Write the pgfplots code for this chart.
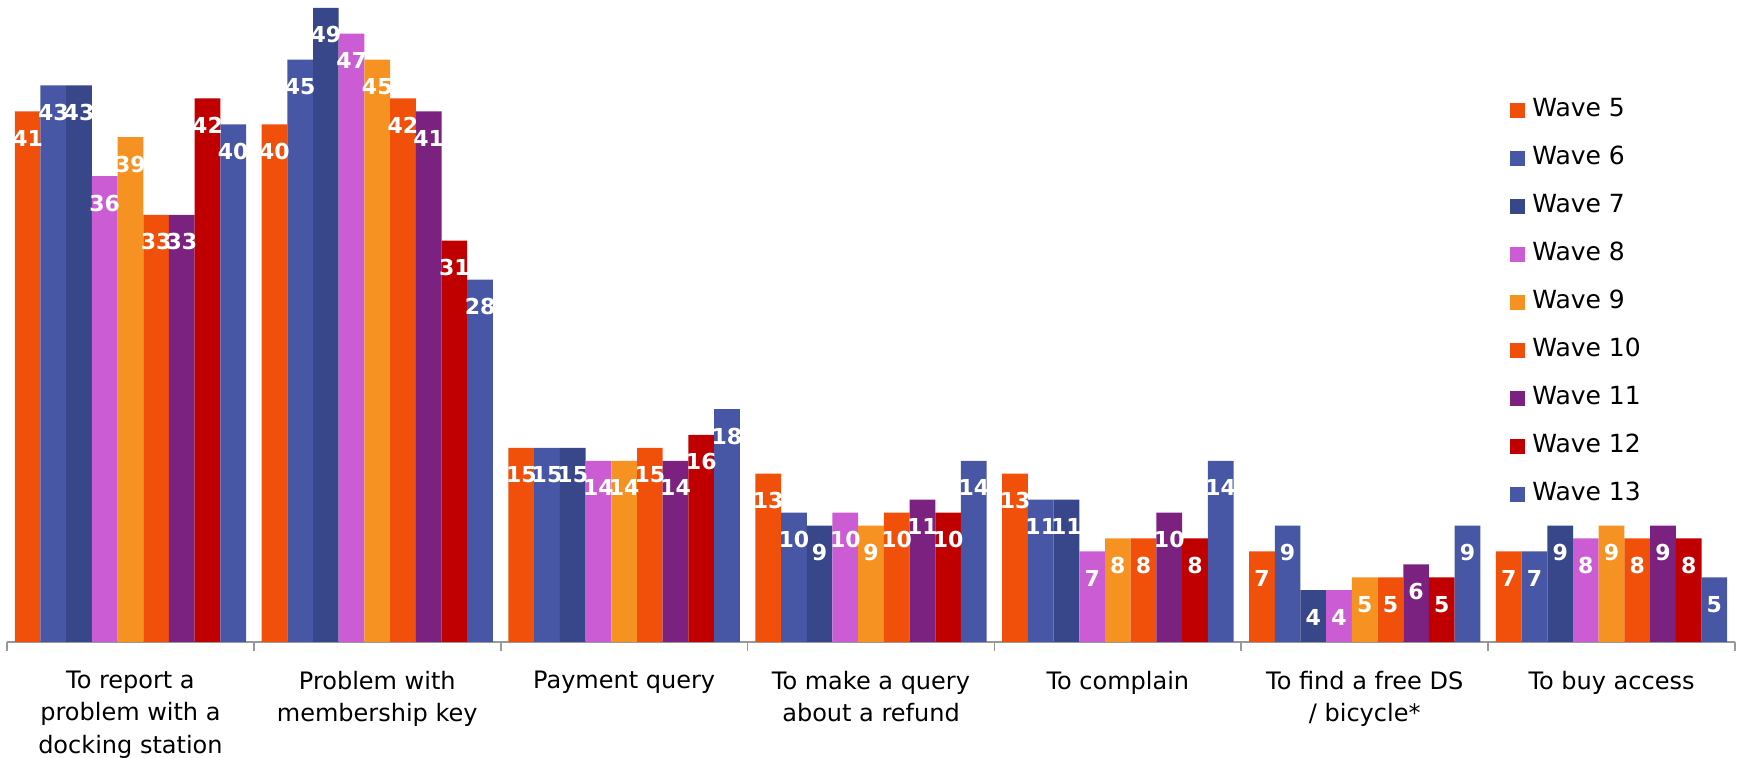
\documentclass[border=0pt]{standalone}
\usepackage{fontspec}
\setmainfont{DejaVu Sans}
\usepackage{pgfplots}
\usepackage{pgfplotstable}
\pgfplotsset{compat=1.18}

\definecolor{wfive}{HTML}{F0500A}
\definecolor{wsix}{HTML}{4757A6}
\definecolor{wseven}{HTML}{38468A}
\definecolor{weight}{HTML}{CC5CD4}
\definecolor{wnine}{HTML}{F59222}
\definecolor{wten}{HTML}{F0500A}
\definecolor{weleven}{HTML}{7B2180}
\definecolor{wtwelve}{HTML}{C00000}
\definecolor{wthirteen}{HTML}{4757A6}

% share of callers, by reason for calling and wave
\pgfplotstableread{
x w5 w6 w7 w8 w9 w10 w11 w12 w13
0 41 43 43 36 39 33 33 42 40
1 40 45 49 47 45 42 41 31 28
2 15 15 15 14 14 15 14 16 18
3 13 10 9 10 9 10 11 10 14
4 13 11 11 7 8 8 10 8 14
5 7 9 4 4 5 5 6 5 9
6 7 7 9 8 9 8 9 8 5
}\datatable

\begin{document}
\begin{tikzpicture}
\useasboundingbox (-3.5pt,-58pt) rectangle (868.5pt,321pt);
\begin{axis}[
  scale only axis, width=864pt, height=321pt,
  ymin=0, ymax=49.6, xmin=-0.5, xmax=6.5,
  ybar=0pt, bar width=12.85pt,
  axis y line=none, axis x line*=bottom,
  x axis line style={-, draw=gray!80, line width=0.9pt},
  xtick={0,...,6},
  xticklabels={To report a\\problem with a\\docking station,
    Problem with\\membership key, Payment query,
    To make a query\\about a refund, To complain,
    To find a free DS\\/ bicycle*, To buy access},
  major x tick style={draw=none},
  minor xtick={-0.5,0.5,...,6.5},
  tick align=outside, minor tick length=4.5pt,
  minor x tick style={draw=gray!80, line width=0.9pt},
  xticklabel style={align=center, inner sep=0pt, anchor=north, yshift=-10pt,
    font=\fontsize{12}{16.2}\selectfont},
  /pgf/number format/assume math mode=true,
  nodes near coords,
  every node near coord/.append style={anchor=center, yshift=-13.5pt,
    text=white, font=\bfseries\fontsize{11}{12}\selectfont},
  every axis plot post/.append style={draw=none,
    legend image code/.code={\fill[##1] (0pt,-3.75pt) rectangle (7.5pt,3.75pt);}},
  legend style={draw=none, fill=none, at={(0.870,0.846)}, anchor=north west,
    inner sep=0pt, outer sep=0pt, row sep=12.5pt, column sep=3.5pt,
    font=\fontsize{12.5}{14}\selectfont,
    nodes={inner sep=0pt, text height=9pt, text depth=2.5pt}},
  legend cell align=left,
]
\addplot[fill=wfive] table[x=x, y=w5] {\datatable};
\addplot[fill=wsix] table[x=x, y=w6] {\datatable};
\addplot[fill=wseven] table[x=x, y=w7] {\datatable};
\addplot[fill=weight] table[x=x, y=w8] {\datatable};
\addplot[fill=wnine] table[x=x, y=w9] {\datatable};
\addplot[fill=wten] table[x=x, y=w10] {\datatable};
\addplot[fill=weleven] table[x=x, y=w11] {\datatable};
\addplot[fill=wtwelve] table[x=x, y=w12] {\datatable};
\addplot[fill=wthirteen] table[x=x, y=w13] {\datatable};
\legend{Wave 5, Wave 6, Wave 7, Wave 8, Wave 9, Wave 10, Wave 11, Wave 12, Wave 13}
\end{axis}
\end{tikzpicture}
\end{document}
